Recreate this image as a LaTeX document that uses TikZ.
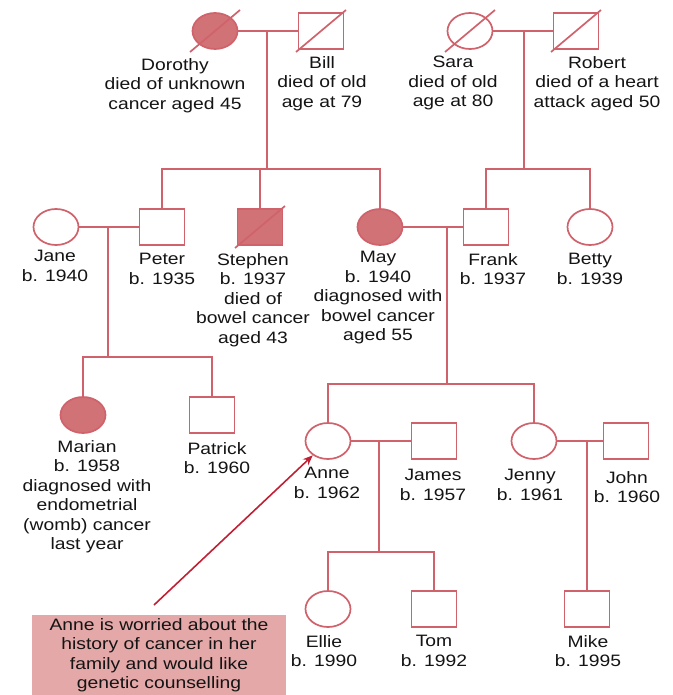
\documentclass[tikz,border=0pt]{standalone}
\usepackage{fontspec}
\setmainfont{Liberation Sans}[FakeStretch=1.17]
\usetikzlibrary{shapes.geometric,arrows.meta}
\definecolor{pedline}{RGB}{208,98,108}
\definecolor{pedfill}{RGB}{208,114,118}
\definecolor{notefill}{RGB}{228,168,168}
\definecolor{arrowred}{RGB}{192,32,52}

\begin{document}
\begin{tikzpicture}[x=1pt,y=-1pt,
    pline/.style={draw=pedline,line width=1.7pt},
    female/.style={ellipse,pline,minimum width=45pt,minimum height=36pt,inner sep=0pt},
    male/.style={rectangle,pline,minimum width=45pt,minimum height=36pt,inner sep=0pt},
    ill/.style={fill=pedfill},
    lbl/.style={anchor=north,align=center,inner sep=0pt,text=black!92,font=\fontsize{16.5}{19.5}\selectfont}]
    \useasboundingbox (0,0) rectangle (672,695);

    % grandparents
    \node[female,ill] (dorothy) at (215,31) {};
    \node[male] (bill) at (321,31) {};
    \node[female] (sara) at (470,31) {};
    \node[male] (robert) at (576,31) {};

    \node[lbl] (dorothyl) at (175,58) {Dorothy\\died of unknown\\cancer aged 45};
    \node[lbl] (billl) at (322,56) {Bill\\died of old\\age at 79};
    \node[lbl] (saral) at (453,56) {Sara\\died of old\\age at 80};
    \node[lbl] (robertl) at (597,56) {Robert\\died of a heart\\attack aged 50};

    % parents
    \node[female] (jane) at (56,227) {};
    \node[male] (peter) at (162,227) {};
    \node[male,ill] (stephen) at (260,227) {};
    \node[female,ill] (may) at (380,227) {};
    \node[male] (frank) at (486,227) {};
    \node[female] (betty) at (590,227) {};

    \node[lbl] (janel) at (55,250) {Jane\\b. 1940};
    \node[lbl] (peterl) at (162,253) {Peter\\b. 1935};
    \node[lbl] (stephenl) at (253,253) {Stephen\\b. 1937\\died of\\bowel cancer\\aged 43};
    \node[lbl] (mayl) at (378,251) {May\\b. 1940\\diagnosed with\\bowel cancer\\aged 55};
    \node[lbl] (frankl) at (493,253) {Frank\\b. 1937};
    \node[lbl] (bettyl) at (590,253) {Betty\\b. 1939};

    % children
    \node[female,ill] (marian) at (83,415) {};
    \node[male] (patrick) at (212,415) {};
    \node[female] (anne) at (328,441) {};
    \node[male] (james) at (434,441) {};
    \node[female] (jenny) at (534,441) {};
    \node[male] (john) at (626,441) {};

    \node[lbl] (marianl) at (87,440) {Marian\\b. 1958\\diagnosed with\\endometrial\\(womb) cancer\\last year};
    \node[lbl] (patrickl) at (217,442) {Patrick\\b. 1960};
    \node[lbl] (annel) at (327,467) {Anne\\b. 1962};
    \node[lbl] (jamesl) at (433,469) {James\\b. 1957};
    \node[lbl] (jennyl) at (530,469) {Jenny\\b. 1961};
    \node[lbl] (johnl) at (627,471) {John\\b. 1960};

    % grandchildren
    \node[female] (ellie) at (328,609) {};
    \node[male] (tom) at (434,609) {};
    \node[male] (mike) at (587,609) {};

    \node[lbl] (elliel) at (324,635) {Ellie\\b. 1990};
    \node[lbl] (toml) at (434,635) {Tom\\b. 1992};
    \node[lbl] (mikel) at (588,635) {Mike\\b. 1995};

    % deceased
    \draw[pline] ([shift={(-25,21)}]dorothy.center) -- ([shift={(25,-21)}]dorothy.center);
    \draw[pline] ([shift={(-25,21)}]bill.center) -- ([shift={(25,-21)}]bill.center);
    \draw[pline] ([shift={(-25,21)}]sara.center) -- ([shift={(25,-21)}]sara.center);
    \draw[pline] ([shift={(-25,21)}]robert.center) -- ([shift={(25,-21)}]robert.center);
    \draw[pline] ([shift={(-25,21)}]stephen.center) -- ([shift={(25,-21)}]stephen.center);

    % couples and their children
    \coordinate (db) at (267,31);
    \coordinate (dbkids) at (267,169);
    \draw[pline] (dorothy) -- (bill);
    \draw[pline] (db) -- (dbkids);
    \draw[pline] (peter.north) |- (dbkids) -| (may.north);
    \draw[pline] (stephen.north) -- (stephen.north |- dbkids);

    \coordinate (sr) at (524,31);
    \coordinate (srkids) at (524,169);
    \draw[pline] (sara) -- (robert);
    \draw[pline] (sr) -- (srkids);
    \draw[pline] (frank.north) |- (srkids) -| (betty.north);

    \coordinate (jp) at (108,227);
    \coordinate (jpkids) at (108,357);
    \draw[pline] (jane) -- (peter);
    \draw[pline] (jp) -- (jpkids);
    \draw[pline] (marian.north) |- (jpkids) -| (patrick.north);

    \coordinate (mf) at (447,227);
    \coordinate (mfkids) at (447,384);
    \draw[pline] (may) -- (frank);
    \draw[pline] (mf) -- (mfkids);
    \draw[pline] (anne.north) |- (mfkids) -| (jenny.north);

    \coordinate (aj) at (379,441);
    \coordinate (ajkids) at (379,552);
    \draw[pline] (anne) -- (james);
    \draw[pline] (aj) -- (ajkids);
    \draw[pline] (ellie.north) |- (ajkids) -| (tom.north);

    \coordinate (jj) at (587,441);
    \draw[pline] (jenny) -- (john);
    \draw[pline] (jj) -- (mike.north);

    % note
    \node[fill=notefill,minimum width=254pt,minimum height=80pt,inner sep=0pt,align=center,
        text=black!92,font=\fontsize{16.5}{19.5}\selectfont] (note) at (159,655)
        {Anne is worried about the\\history of cancer in her\\family and would like\\genetic counselling};
    \coordinate (tail) at (154,605);
    \draw[arrowred,line width=1.6pt,-{Stealth[length=10pt,width=8pt]}] (tail) -- (anne);
\end{tikzpicture}
\end{document}
